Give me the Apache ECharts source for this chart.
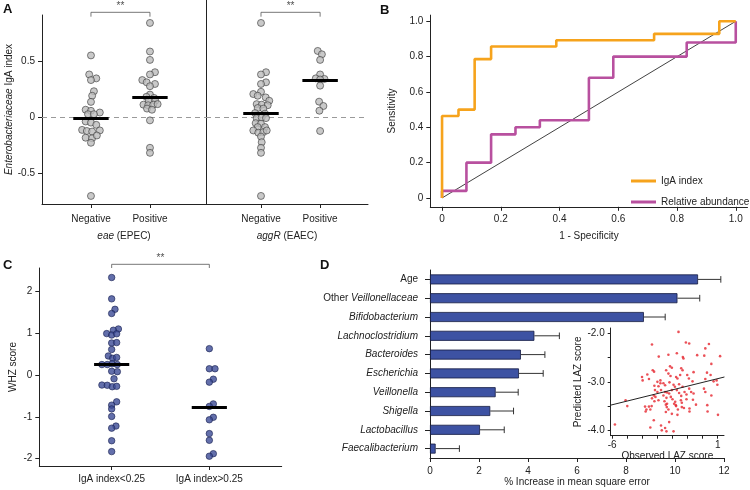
<!DOCTYPE html>
<html><head><meta charset="utf-8">
<script src="https://cdn.jsdelivr.net/npm/echarts@6/dist/echarts.min.js"></script>
<style>html,body{margin:0;padding:0;background:#fff}#c{width:750px;height:490px}</style>
</head><body><div id="c"></div>
<script>
// ---------------- DATA ----------------
// Panel A: [jitter (category units), IgA index]
const aCats = ['Negative', 'Positive'];
const aYTicks = [-0.5, 0, 0.5];
const eaeNegative = [[0,0.55],[-0.03,0.38],[0.09,0.345],[0,0.33],[0.05,0.23],[0.02,0.19],[0,0.135],[-0.09,0.065],[0,0.055],[0.15,0.04],[-0.05,0.025],[0.05,0.025],[-0.09,-0.04],[0,-0.05],[0.09,-0.07],[-0.15,-0.115],[-0.07,-0.125],[0.02,-0.13],[0.15,-0.12],[-0.09,-0.185],[0.02,-0.19],[0.1,-0.165],[0,-0.23],[0,-0.705]];
const eaePositive = [[0,0.84],[0,0.585],[0,0.51],[0.085,0.40],[0,0.38],[-0.13,0.33],[-0.056,0.31],[0.085,0.295],[0,0.275],[0,0.20],[-0.06,0.18],[0.07,0.17],[-0.02,0.145],[0.09,0.145],[-0.11,0.11],[-0.03,0.105],[0.056,0.11],[0.13,0.115],[-0.05,0.075],[0.034,0.065],[0,-0.03],[0,-0.275],[0,-0.32]];
const aggRNegative = [[0,0.84],[0.085,0.40],[0,0.38],[0.085,0.31],[0,0.295],[0,0.225],[-0.13,0.205],[-0.056,0.19],[0.08,0.175],[0.14,0.145],[-0.073,0.115],[0.012,0.11],[0.114,0.105],[-0.056,0.08],[0.04,0.075],[-0.1,0.035],[0.068,0.03],[-0.073,-0.01],[0.012,-0.005],[0.085,-0.01],[-0.09,-0.055],[0,-0.06],[-0.056,-0.09],[0.068,-0.09],[-0.13,-0.12],[-0.046,-0.14],[0.04,-0.135],[0.097,-0.12],[0,-0.175],[0.012,-0.225],[0,-0.275],[0,-0.32],[0,-0.705]];
const aggRPositive = [[-0.04,0.59],[0.03,0.56],[0,0.51],[0,0.38],[-0.073,0.345],[0.073,0.34],[0,0.335],[0,0.28],[-0.017,0.137],[0.056,0.098],[-0.012,0.056],[0,-0.125]];
const eaeMedians = [-0.009, 0.172];
const aggRMedians = [0.03, 0.33];

// Panel B: ROC vertices [1 - specificity, sensitivity]
const bTicks = [0, 0.2, 0.4, 0.6, 0.8, 1.0];
const igaIndexRoc = [[0,0],[0,0.464],[0.056,0.5],[0.111,0.786],[0.167,0.857],[0.389,0.893],[0.722,0.929],[0.944,1],[1,1]];
const relAbundanceRoc = [[0,0],[0,0.04],[0.083,0.2],[0.167,0.36],[0.25,0.4],[0.333,0.44],[0.5,0.68],[0.583,0.8],[0.833,0.88],[1,1]];
const chanceLine = [[0,0],[1,1]];

// Panel C: [jitter, WHZ score]
const cCats = ['IgA index<0.25', 'IgA index>0.25'];
const cYTicks = [-2, -1, 0, 1, 2];
const whzLow = [[0,2.33],[0,1.82],[0.034,1.57],[0,1.47],[0.069,1.1],[0.017,1.07],[-0.051,0.99],[0,0.955],[0.051,0.985],[0,0.765],[0.051,0.775],[0,0.61],[-0.034,0.455],[0.01,0.40],[0.051,0.42],[-0.1,0.25],[-0.045,0.25],[0.006,0.27],[0.057,0.25],[0,0.09],[0.058,0.08],[0.024,-0.09],[-0.1,-0.24],[-0.045,-0.245],[0.006,-0.28],[0.051,-0.27],[0.051,-0.64],[0,-0.72],[0,-0.81],[0,-0.99],[0.044,-1.22],[0,-1.27],[0,-1.57],[0,-1.83]];
const whzHigh = [[0,0.63],[0,0.15],[0.058,0.15],[0.041,-0.10],[0,-0.17],[0.041,-0.69],[0,-0.75],[0.041,-1.01],[0,-1.07],[0,-1.40],[0,-1.56],[0.041,-1.88],[0,-1.94]];
const whzMedians = [0.25, -0.76];

// Panel D
const dCats = ['Age','Other Veillonellaceae','Bifidobacterium','Lachnoclostridium','Bacteroides','Escherichia','Veillonella','Shigella','Lactobacillus','Faecalibacterium'];
const dValues = [10.94, 10.10, 8.73, 4.26, 3.71, 3.63, 2.68, 2.46, 2.04, 0.23];
const dErrUpper = [11.87, 11.01, 9.60, 5.28, 4.69, 4.62, 3.60, 3.41, 3.03, 1.20];

// Inset: [observed LAZ, predicted LAZ]
const lazXLabels = [-6, 1];
const lazXTicks = [-6, -5, -4, -3, -2, -1, 0, 1];
const lazYLabels = [-2, -3, -4];
const lazYTicks = [-2, -2.5, -3, -3.5, -4];
const lazPoints = [[-1.6,-1.97],[-3.36,-2.23],[-1.11,-2.19],[-0.89,-2.21],[0.42,-2.22],[0.18,-2.31],[-2.91,-2.48],[-2.27,-2.44],[-1.71,-2.41],[-1.31,-2.49],[-1.27,-2.52],[-0.36,-2.45],[0.11,-2.46],[1.16,-2.47],[0.58,-2.63],[-2.16,-2.68],[-2.04,-2.71],[-2.42,-2.76],[-1.42,-2.72],[-1.33,-2.76],[-3.31,-2.76],[-3.22,-2.79],[-3.67,-2.85],[-4.02,-2.9],[-3.98,-2.97],[-3.56,-2.94],[-2.8,-2.97],[-2.27,-2.83],[-2.13,-2.88],[-1.76,-2.9],[-1.67,-2.93],[-1.49,-2.86],[-1.02,-2.86],[-0.6,-2.8],[-0.91,-2.93],[0.29,-2.81],[0.53,-2.86],[0.18,-2.94],[0.73,-2.99],[0.93,-2.97],[0.98,-3.06],[-0.67,-2.99],[-3.0,-3.0],[-2.8,-3.03],[-3.2,-3.08],[-2.93,-3.09],[-2.6,-3.03],[-2.49,-3.07],[-2.2,-3.01],[-1.93,-3.06],[-1.84,-3.1],[-1.56,-3.05],[-1.33,-3.1],[-3.16,-3.17],[-3.0,-3.21],[-2.76,-3.17],[-2.49,-3.21],[-2.36,-3.22],[-2.22,-3.24],[-2.04,-3.17],[-1.71,-3.17],[-1.56,-3.23],[-1.42,-3.29],[-1.2,-3.21],[-1.07,-3.26],[-0.89,-3.14],[-0.76,-3.21],[-0.6,-3.24],[0.09,-3.14],[0.18,-3.21],[0.58,-3.28],[-3.24,-3.28],[-3.13,-3.31],[-3.36,-3.34],[-3.2,-3.4],[-2.93,-3.38],[-2.6,-3.28],[-2.4,-3.33],[-2.53,-3.4],[-2.36,-3.45],[-2.11,-3.31],[-2.0,-3.36],[-1.82,-3.41],[-1.78,-3.48],[-1.44,-3.38],[-1.38,-3.43],[-1.07,-3.36],[-0.64,-3.37],[-5.11,-3.38],[-5.0,-3.5],[-3.82,-3.51],[-3.73,-3.57],[-3.56,-3.51],[-3.47,-3.57],[-3.78,-3.61],[-3.38,-3.5],[-2.44,-3.47],[-2.38,-3.52],[-2.27,-3.57],[-2.44,-3.62],[-1.89,-3.45],[-1.76,-3.5],[-1.64,-3.57],[-1.38,-3.52],[-1.24,-3.54],[-0.87,-3.55],[-0.87,-3.61],[-0.44,-3.47],[0.31,-3.48],[0.33,-3.61],[1.02,-3.68],[-2.04,-3.66],[-1.67,-3.68],[-3.24,-3.79],[-2.76,-3.9],[-3.47,-3.94],[-2.49,-3.95],[-2.4,-4.02],[-2.71,-4.0],[-1.93,-4.02],[-5.82,-3.88],[-2.22,-3.83]];
const lazFit = [[-6.1,-3.48],[1.45,-2.9]];

// ---------------- CHART ----------------
const FONT = '"Liberation Sans", Arial, sans-serif';
const INK = '#222';
const FS = 10;
const chart = echarts.init(document.getElementById('c'), null, {width: 750, height: 490});

const txt = {color: INK, fontSize: FS, fontFamily: FONT};
const rich = {i: {fontStyle: 'italic', color: INK, fontSize: FS, fontFamily: FONT}};
function valAxis(gi, min, max, o) {
  return Object.assign({
    type: 'value', gridIndex: gi, min: min, max: max,
    axisLine: {show: true, onZero: false, lineStyle: {color: INK, width: 1}},
    axisTick: {show: true, length: 4, lineStyle: {color: INK}},
    axisLabel: Object.assign({}, txt, {margin: 7}),
    splitLine: {show: false},
    nameLocation: 'middle',
    nameTextStyle: Object.assign({}, txt, {rich: rich})
  }, o);
}
function fmtA(v) { return v === 0 ? '0' : String(v); }
function fmt1(v) { return v === 0 ? '0' : v.toFixed(1); }

// A scale: same px-per-unit in both sub-panels
const aMin = -0.777, aMax1 = 0.911;
const aH1 = 189, aH2 = 204;
const aMax2 = aMin + (aMax1 - aMin) * aH2 / aH1;

const grids = [
  {left: 42, top: 15, width: 164, height: aH1},
  {left: 206, top: 0, width: 162, height: aH2},
  {left: 430.3, top: 15.1, width: 317.2, height: 191.7},
  {left: 39.3, top: 268, width: 242.4, height: 198},
  {left: 430, top: 270, width: 294, height: 188},
  {left: 610.7, top: 328, width: 113.3, height: 107.7}
];

const xAxes = [
  valAxis(0, -0.83, 1.95, {
    axisTick: {show: true, length: 4, customValues: [0, 1], lineStyle: {color: INK}},
    axisLabel: Object.assign({}, txt, {customValues: [0, 1], margin: 10, formatter: v => aCats[v]}),
    name: '{i|eae} (EPEC)', nameGap: 27
  }),
  valAxis(1, -0.93, 1.81, {
    axisTick: {show: true, length: 4, customValues: [0, 1], lineStyle: {color: INK}},
    axisLabel: Object.assign({}, txt, {customValues: [0, 1], margin: 10, formatter: v => aCats[v]}),
    name: '{i|aggR} (EAEC)', nameGap: 27
  }),
  valAxis(2, -0.04, 1.04, {
    axisTick: {show: true, length: 4, customValues: bTicks, lineStyle: {color: INK}},
    axisLabel: Object.assign({}, txt, {customValues: bTicks, margin: 7, formatter: fmt1}),
    name: '1 - Specificity', nameGap: 24
  }),
  valAxis(3, -0.741, 1.741, {
    axisTick: {show: true, length: 4, customValues: [0, 1], lineStyle: {color: INK}},
    axisLabel: Object.assign({}, txt, {customValues: [0, 1], margin: 8, formatter: v => cCats[v]}),
  }),
  valAxis(4, 0, 12, {
    interval: 2,
    axisLabel: Object.assign({}, txt, {margin: 8}),
    name: '% Increase in mean square error', nameGap: 18
  }),
  valAxis(5, -6.1, 1.42, {
    axisTick: {show: true, length: 3, customValues: lazXTicks, lineStyle: {color: INK}},
    axisLabel: Object.assign({}, txt, {customValues: lazXLabels, margin: 5}),
    name: 'Observed LAZ score', nameGap: 11
  })
];

const dRich = {
  i: {fontStyle: 'italic', color: INK, fontSize: FS, fontFamily: FONT},
  n: {color: INK, fontSize: FS, fontFamily: FONT}
};
function dLabel(name) {
  if (name === 'Age') return '{n|Age}';
  if (name.indexOf('Other ') === 0) return '{n|Other }{i|' + name.slice(6) + '}';
  return '{i|' + name + '}';
}

const yAxes = [
  valAxis(0, aMin, aMax1, {
    axisTick: {show: true, length: 4, customValues: aYTicks, lineStyle: {color: INK}},
    axisLabel: Object.assign({}, txt, {customValues: aYTicks, margin: 7, formatter: fmtA}),
    name: '{i|Enterobacteriaceae} IgA index', nameGap: 25
  }),
  valAxis(1, aMin, aMax2, {axisTick: {show: false}, axisLabel: {show: false}}),
  valAxis(2, -0.05, 1.035, {
    axisTick: {show: true, length: 4, customValues: bTicks, lineStyle: {color: INK}},
    axisLabel: Object.assign({}, txt, {customValues: bTicks, margin: 7, formatter: fmt1}),
    name: 'Sensitivity', nameGap: 33
  }),
  valAxis(3, -2.174, 2.557, {
    axisTick: {show: true, length: 4, customValues: cYTicks, lineStyle: {color: INK}},
    axisLabel: Object.assign({}, txt, {customValues: cYTicks, margin: 7}),
    name: 'WHZ score', nameGap: 21
  }),
  {
    type: 'category', gridIndex: 4, data: dCats, inverse: true,
    axisLine: {show: true, onZero: false, lineStyle: {color: INK}},
    axisTick: {show: true, alignWithLabel: true, length: 5, lineStyle: {color: INK}},
    axisLabel: {margin: 12, formatter: dLabel, rich: dRich, color: INK, fontSize: FS, fontFamily: FONT}
  },
  valAxis(5, -4.11, -1.89, {
    axisTick: {show: true, length: 3, customValues: lazYTicks, lineStyle: {color: INK}},
    axisLabel: Object.assign({}, txt, {customValues: lazYLabels, margin: 6, formatter: v => v.toFixed(1)}),
    name: 'Predicted LAZ score', nameGap: 25
  })
];

const greyDot = {color: '#bcbcbc', borderColor: '#3a3a3a', borderWidth: 0.8};
const blueDot = {color: '#3c4b96', borderColor: '#1b2352', borderWidth: 0.8};
function swarm(pts, g, ai, size, style) {
  return {type: 'scatter', xAxisIndex: ai, yAxisIndex: ai, symbolSize: size, itemStyle: style,
    data: pts.map(p => [g + p[0], p[1]]), z: 3, silent: true, animation: false};
}
function zeroLine(ai) {
  return {type: 'line', xAxisIndex: ai, yAxisIndex: ai, data: [], animation: false,
    markLine: {silent: true, z: 1, symbol: ['none', 'none'], label: {show: false}, animation: false,
      lineStyle: {type: [5, 4], color: '#9a9a9a', width: 1.2},
      data: [{yAxis: 0}]}};
}
function medians(ai, meds, half) {
  return {type: 'line', xAxisIndex: ai, yAxisIndex: ai, data: [], animation: false,
    markLine: {silent: true, z: 6, symbol: ['none', 'none'], label: {show: false}, animation: false,
      lineStyle: {type: 'solid', color: '#000', width: 3},
      data: meds.map((m, g) => [{coord: [g - half, m]}, {coord: [g + half, m]}])}};
}
function bracket(ai, lo, hi) {
  return [
    {type: 'line', xAxisIndex: ai, yAxisIndex: ai, clip: false, symbol: 'none', animation: false,
      lineStyle: {color: '#555', width: 0.8}, silent: true,
      data: [[0, lo], [0, hi], [1, hi], [1, lo]]},
    {type: 'scatter', xAxisIndex: ai, yAxisIndex: ai, clip: false, symbolSize: 0, animation: false, silent: true,
      label: {show: true, position: 'top', distance: 1, formatter: '**', color: INK, fontSize: 10, fontFamily: FONT},
      data: [[0.5, hi]]}
  ];
}

const series = [
  zeroLine(0), zeroLine(1),
  swarm(eaeNegative, 0, 0, 7, greyDot), swarm(eaePositive, 1, 0, 7, greyDot),
  swarm(aggRNegative, 0, 1, 7, greyDot), swarm(aggRPositive, 1, 1, 7, greyDot),
  medians(0, eaeMedians, 0.3), medians(1, aggRMedians, 0.3),
  ...bracket(0, 0.896, 0.935), ...bracket(1, 0.896, 0.935),
  // B
  {type: 'line', xAxisIndex: 2, yAxisIndex: 2, data: chanceLine, symbol: 'none', silent: true, animation: false,
    lineStyle: {color: '#111', width: 0.8}, z: 2},
  {type: 'line', name: 'IgA index', xAxisIndex: 2, yAxisIndex: 2, data: igaIndexRoc, step: 'end', symbol: 'none',
    animation: false, color: '#f6a31c', lineStyle: {color: '#f6a31c', width: 2.6}, z: 4},
  {type: 'line', name: 'Relative abundance', xAxisIndex: 2, yAxisIndex: 2, data: relAbundanceRoc, step: 'end', symbol: 'none',
    animation: false, color: '#b8509f', lineStyle: {color: '#b8509f', width: 2.6}, z: 3},
  // C
  swarm(whzLow, 0, 3, 6.5, blueDot), swarm(whzHigh, 1, 3, 6.5, blueDot),
  medians(3, whzMedians, 0.18),
  ...bracket(3, 2.557, 2.645),
  // D
  {type: 'bar', xAxisIndex: 4, yAxisIndex: 4, data: dValues, barWidth: 10, animation: false, silent: true,
    itemStyle: {color: '#3d52a3', borderColor: '#141a40', borderWidth: 0.8}},
  {type: 'custom', xAxisIndex: 4, yAxisIndex: 4, animation: false, silent: true,
    data: dValues.map((v, i) => [v, i, dErrUpper[i]]),
    encode: {x: [0, 2], y: 1},
    renderItem: function (params, api) {
      const p0 = api.coord([api.value(0), api.value(1)]);
      const p1 = api.coord([api.value(2), api.value(1)]);
      const st = {stroke: '#333', lineWidth: 1};
      return {type: 'group', children: [
        {type: 'line', shape: {x1: p0[0], y1: p0[1], x2: p1[0], y2: p1[1]}, style: st},
        {type: 'line', shape: {x1: p1[0], y1: p1[1] - 3.3, x2: p1[0], y2: p1[1] + 3.3}, style: st}
      ]};
    }},
  // Inset
  {type: 'scatter', xAxisIndex: 5, yAxisIndex: 5, data: lazPoints, symbolSize: 2.6, animation: false, silent: true,
    itemStyle: {color: '#e6262e'}},
  {type: 'line', xAxisIndex: 5, yAxisIndex: 5, data: lazFit, symbol: 'none', animation: false, silent: true,
    lineStyle: {color: '#222', width: 1}}
];

function letter(t, x, y) {
  return {type: 'text', left: x, top: y, silent: true,
    style: {text: t, fill: '#111', font: 'bold 13px ' + FONT}};
}

chart.setOption({
  backgroundColor: '#fff',
  animation: false,
  textStyle: {fontFamily: FONT},
  grid: grids,
  xAxis: xAxes,
  yAxis: yAxes,
  legend: {
    data: ['IgA index', 'Relative abundance'], orient: 'vertical', left: 631, top: 176, padding: 0,
    icon: 'rect', itemWidth: 25, itemHeight: 3, itemGap: 11, textStyle: txt, selectedMode: false
  },
  graphic: [letter('A', 3, 3), letter('B', 380, 4), letter('C', 3, 259), letter('D', 320, 259)],
  series: series
});
</script>
</body></html>
